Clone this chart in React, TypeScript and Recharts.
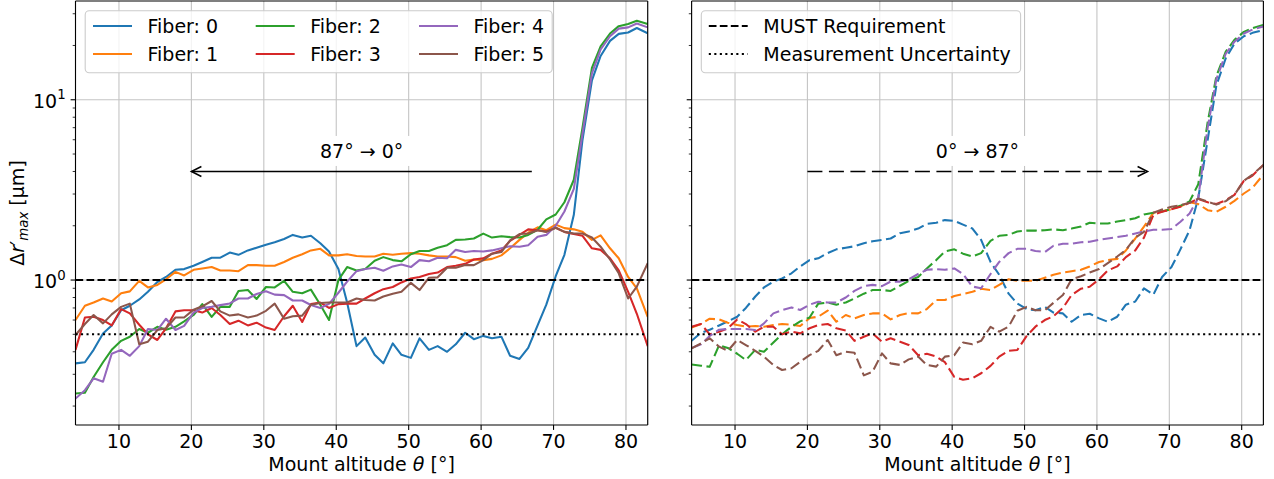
import React from 'react';
import { LineChart, Line, XAxis, YAxis, CartesianGrid, ReferenceLine, ReferenceDot } from 'recharts';

// mount altitude samples (deg)
const ALTITUDE = [
  4.0, 5.3, 6.5, 7.8, 9.0, 10.3, 11.5, 12.8, 14.0, 15.3, 16.5, 17.8, 19.0, 20.3, 21.5, 22.8,
  24.0, 25.3, 26.5, 27.8, 29.0, 30.3, 31.5, 32.8, 34.0, 35.3, 36.5, 37.8, 39.0, 40.3, 41.5, 42.8,
  44.0, 45.3, 46.5, 47.8, 49.0, 50.3, 51.5, 52.8, 54.0, 55.3, 56.5, 57.8, 59.0, 60.3, 61.5, 62.8,
  64.0, 65.3, 66.5, 67.8, 69.0, 70.3, 71.5, 72.8, 74.0, 75.3, 76.5, 77.8, 79.0, 80.3, 81.5, 83.0,
];

// left panel: 87 -> 0 sweep
const DOWN_FIBER_0 = [
  0.345, 0.35, 0.41, 0.505, 0.56, 0.68, 0.72, 0.78, 0.86, 0.975, 1.04, 1.14, 1.15, 1.2, 1.26, 1.33,
  1.33, 1.42, 1.38, 1.46, 1.51, 1.57, 1.62, 1.69, 1.78, 1.72, 1.76, 1.6, 1.44, 1.15, 0.75, 0.43,
  0.48, 0.385, 0.345, 0.445, 0.385, 0.37, 0.475, 0.41, 0.43, 0.4, 0.44, 0.51, 0.47, 0.49, 0.475, 0.485,
  0.38, 0.365, 0.42, 0.56, 0.73, 1.05, 1.38, 2.3, 6.0, 12.8, 17.5, 21.2, 23.2, 23.6, 25.0, 23.4,
];
const DOWN_FIBER_1 = [
  0.6, 0.72, 0.75, 0.79, 0.76, 0.845, 0.865, 0.99, 0.91, 0.94, 1.01, 1.11, 1.06, 1.14, 1.16, 1.18,
  1.13, 1.13, 1.12, 1.21, 1.21, 1.2, 1.2, 1.26, 1.33, 1.39, 1.46, 1.49, 1.37, 1.37, 1.39, 1.36,
  1.35, 1.35, 1.4, 1.38, 1.4, 1.41, 1.4, 1.37, 1.35, 1.35, 1.34, 1.28, 1.3, 1.29, 1.31, 1.37,
  1.5, 1.67, 1.83, 1.96, 1.89, 2.03, 1.94, 1.91, 1.85, 1.67, 1.77, 1.5, 1.32, 1.04, 0.9, 0.625,
];
const DOWN_FIBER_2 = [
  0.235, 0.237, 0.29, 0.35, 0.41, 0.46, 0.485, 0.535, 0.51, 0.55, 0.53, 0.55, 0.59, 0.64, 0.735, 0.625,
  0.71, 0.71, 0.87, 0.88, 0.785, 0.915, 0.91, 0.99, 0.86, 0.845, 0.885, 0.73, 0.6, 1.0, 1.18, 1.13,
  1.15, 1.28, 1.34, 1.29, 1.27, 1.39, 1.45, 1.45, 1.51, 1.56, 1.67, 1.68, 1.7, 1.81, 1.72, 1.75,
  1.73, 1.72, 1.78, 1.9, 2.17, 2.31, 2.7, 3.6, 7.0, 15.0, 19.8, 23.3, 25.6, 26.3, 27.4, 26.3,
];
const DOWN_FIBER_3 = [
  0.41, 0.62, 0.626, 0.6, 0.56, 0.69, 0.653, 0.565, 0.5, 0.465, 0.54, 0.67, 0.68, 0.68, 0.66, 0.7,
  0.64, 0.57, 0.595, 0.56, 0.58, 0.545, 0.528, 0.63, 0.72, 0.585, 0.735, 0.75, 0.7, 0.735, 0.74, 0.74,
  0.79, 0.845, 0.89, 0.915, 0.97, 1.02, 1.04, 1.08, 1.1, 1.18, 1.2, 1.23, 1.3, 1.32, 1.4, 1.46,
  1.65, 1.78, 1.91, 1.89, 1.86, 1.95, 1.85, 1.8, 1.76, 1.5, 1.47, 1.32, 1.13, 0.86, 0.65, 0.43,
];
const DOWN_FIBER_4 = [
  0.22, 0.245, 0.285, 0.273, 0.39, 0.41, 0.38, 0.43, 0.535, 0.528, 0.61, 0.528, 0.557, 0.66, 0.7, 0.71,
  0.726, 0.742, 0.79, 0.79, 0.837, 0.866, 0.83, 0.825, 0.77, 0.77, 0.727, 0.7, 0.737, 0.85, 0.98, 1.12,
  1.15, 1.17, 1.125, 1.19, 1.22, 1.18, 1.29, 1.27, 1.33, 1.32, 1.47, 1.43, 1.45, 1.44, 1.46, 1.5,
  1.54, 1.53, 1.56, 1.74, 1.78, 2.0, 2.4, 3.2, 6.5, 14.0, 19.0, 22.5, 24.8, 25.2, 26.5, 25.2,
];
const DOWN_FIBER_5 = [
  0.495, 0.57, 0.64, 0.575, 0.645, 0.71, 0.74, 0.44, 0.455, 0.528, 0.54, 0.62, 0.62, 0.685, 0.715, 0.765,
  0.67, 0.635, 0.645, 0.62, 0.635, 0.675, 0.74, 0.61, 0.63, 0.635, 0.73, 0.745, 0.75, 0.75, 0.75, 0.79,
  0.775, 0.77, 0.81, 0.84, 0.86, 0.965, 0.88, 1.03, 1.035, 1.17, 1.17, 1.21, 1.21, 1.29, 1.4, 1.43,
  1.66, 1.8, 1.81, 1.89, 1.85, 1.95, 1.85, 1.81, 1.81, 1.72, 1.53, 1.3, 1.09, 0.79, 0.92, 1.24,
];

// right panel: 0 -> 87 sweep
const UP_FIBER_0 = [
  0.46, 0.51, 0.53, 0.56, 0.59, 0.626, 0.7, 0.81, 0.91, 0.98, 1.02, 1.09, 1.19, 1.29, 1.32, 1.41,
  1.48, 1.51, 1.54, 1.6, 1.64, 1.67, 1.7, 1.82, 1.86, 1.93, 2.05, 2.08, 2.15, 2.13, 2.03, 1.93,
  1.67, 1.26, 1.07, 0.84, 0.74, 0.69, 0.68, 0.71, 0.66, 0.653, 0.587, 0.64, 0.65, 0.613, 0.587, 0.626,
  0.73, 0.76, 0.9, 0.83, 1.04, 1.18, 1.47, 1.89, 2.85, 6.0, 12.0, 17.0, 20.5, 22.5, 23.5, 24.4,
];
const UP_FIBER_1 = [
  0.545, 0.57, 0.61, 0.605, 0.58, 0.563, 0.551, 0.556, 0.551, 0.563, 0.57, 0.566, 0.556, 0.615, 0.626, 0.677,
  0.587, 0.64, 0.613, 0.64, 0.653, 0.653, 0.605, 0.64, 0.655, 0.653, 0.69, 0.775, 0.775, 0.815, 0.835, 0.86,
  0.895, 0.88, 0.94, 1.01, 0.99, 0.99, 0.99, 1.03, 1.07, 1.1, 1.12, 1.14, 1.19, 1.26, 1.29, 1.31,
  1.46, 1.7, 1.98, 2.36, 2.41, 2.47, 2.56, 2.7, 2.64, 2.44, 2.39, 2.55, 2.75, 3.02, 3.25, 3.85,
];
const UP_FIBER_2 = [
  0.34, 0.335, 0.33, 0.435, 0.42, 0.39, 0.36, 0.41, 0.4, 0.45, 0.5, 0.55, 0.59, 0.62, 0.74, 0.75,
  0.73, 0.75, 0.79, 0.84, 0.88, 0.88, 0.87, 0.93, 0.99, 1.04, 1.16, 1.29, 1.44, 1.48, 1.4, 1.35,
  1.41, 1.65, 1.76, 1.78, 1.86, 1.88, 1.88, 1.89, 1.91, 1.89, 1.93, 1.98, 2.08, 2.06, 2.06, 2.11,
  2.15, 2.2, 2.31, 2.36, 2.4, 2.48, 2.58, 2.73, 3.4, 7.5, 13.5, 18.5, 21.5, 23.8, 25.0, 26.0,
];
const UP_FIBER_3 = [
  0.551, 0.57, 0.5, 0.517, 0.54, 0.605, 0.57, 0.517, 0.551, 0.551, 0.5, 0.517, 0.506, 0.54, 0.563, 0.57,
  0.54, 0.525, 0.46, 0.485, 0.506, 0.455, 0.475, 0.455, 0.436, 0.383, 0.39, 0.376, 0.35, 0.29, 0.28, 0.285,
  0.304, 0.334, 0.376, 0.405, 0.409, 0.49, 0.551, 0.6, 0.63, 0.7, 0.826, 0.895, 0.918, 1.01, 1.13, 1.19,
  1.34, 1.46, 1.72, 2.3, 2.39, 2.47, 2.55, 2.68, 2.82, 2.7, 2.64, 2.77, 2.97, 3.55, 3.8, 4.35,
];
const UP_FIBER_4 = [
  0.42, 0.44, 0.49, 0.53, 0.535, 0.535, 0.535, 0.528, 0.575, 0.653, 0.682, 0.705, 0.682, 0.73, 0.758, 0.75,
  0.75, 0.8, 0.87, 0.925, 0.94, 0.925, 0.98, 0.98, 1.01, 1.08, 1.14, 1.15, 1.14, 1.16, 1.08, 0.92,
  0.9, 1.08, 1.26, 1.41, 1.49, 1.49, 1.45, 1.43, 1.55, 1.59, 1.59, 1.62, 1.63, 1.67, 1.7, 1.73,
  1.76, 1.81, 1.86, 1.9, 1.9, 1.92, 2.1, 2.34, 2.85, 7.0, 13.0, 18.0, 21.0, 23.3, 24.5, 25.5,
];
const UP_FIBER_5 = [
  0.418, 0.445, 0.475, 0.427, 0.405, 0.465, 0.436, 0.405, 0.376, 0.338, 0.317, 0.324, 0.352, 0.383, 0.405, 0.465,
  0.383, 0.4, 0.395, 0.296, 0.31, 0.392, 0.345, 0.338, 0.363, 0.376, 0.338, 0.331, 0.376, 0.383, 0.45, 0.44,
  0.46, 0.55, 0.517, 0.551, 0.676, 0.71, 0.68, 0.68, 0.748, 0.826, 1.01, 1.05, 1.1, 1.15, 1.24, 1.35,
  1.47, 1.72, 1.85, 2.36, 2.46, 2.55, 2.6, 2.68, 2.83, 2.72, 2.62, 2.74, 2.97, 3.55, 3.85, 4.35,
];

const FIBER_LABELS = ['Fiber: 0', 'Fiber: 1', 'Fiber: 2', 'Fiber: 3', 'Fiber: 4', 'Fiber: 5'];
const FIBER_COLORS = ['#1f77b4', '#ff7f0e', '#2ca02c', '#d62728', '#9467bd', '#8c564b'];

const X_TICKS = [10, 20, 30, 40, 50, 60, 70, 80];
const Y_MAJOR = [1, 10];
const Y_TICKS = [0.2, 0.3, 0.4, 0.5, 0.6, 0.7, 0.8, 0.9, 1, 2, 3, 4, 5, 6, 7, 8, 9, 10, 20, 30];
const X_DOMAIN: [number, number] = [4, 83];
const Y_DOMAIN: [number, number] = [0.157, 35.3];

const MUST_REQUIREMENT = 1;
const MEASUREMENT_UNCERTAINTY = 0.5;

const FONT = "'DejaVu Sans', sans-serif";
const FS = 19;
const LW = 2.08;
const DASH = '7.7 3.3';
const SERIES_DASH = '10.5 4.5';
const DOT = '2.1 3.4';

const buildRows = (series: number[][]) =>
  ALTITUDE.map((alt, i) => {
    const row: Record<string, number> = { alt };
    series.forEach((s, k) => {
      row[`f${k}`] = s[i];
    });
    return row;
  });

const downRows = buildRows([DOWN_FIBER_0, DOWN_FIBER_1, DOWN_FIBER_2, DOWN_FIBER_3, DOWN_FIBER_4, DOWN_FIBER_5]);
const upRows = buildRows([UP_FIBER_0, UP_FIBER_1, UP_FIBER_2, UP_FIBER_3, UP_FIBER_4, UP_FIBER_5]);

const YTick = (props: any) => {
  const { x, y, payload, showLabel } = props;
  const value = payload.value;
  const major = Y_MAJOR.includes(value);
  const len = major ? 4.9 : 2.8;
  return (
    <g>
      <line x1={x} y1={y} x2={x - len} y2={y} stroke="#000" strokeWidth={major ? 1.1 : 0.8} />
      {major && showLabel ? (
        <text x={x - 9.8} y={y + 8} textAnchor="end" fontSize={FS} fill="#000" fontFamily={FONT}>
          10
          <tspan dy={-8.5} fontSize={13.3}>
            {Math.round(Math.log10(value))}
          </tspan>
        </text>
      ) : null}
    </g>
  );
};

const XLabel = (props: any) => {
  const { viewBox } = props;
  const cx = viewBox.x + viewBox.width / 2;
  return (
    <text x={cx} y={viewBox.y + 46} textAnchor="middle" fontSize={FS} fill="#000" fontFamily={FONT}>
      Mount altitude <tspan fontStyle="italic">θ</tspan> [°]
    </text>
  );
};

const YLabel = (props: any) => {
  const { viewBox } = props;
  const cx = 23.5;
  const cy = viewBox.y + viewBox.height / 2;
  return (
    <text
      x={cx}
      y={cy}
      transform={`rotate(-90, ${cx}, ${cy})`}
      textAnchor="middle"
      fontSize={FS}
      fill="#000"
      fontFamily={FONT}
    >
      Δ<tspan fontStyle="italic">r</tspan>′
      <tspan fontStyle="italic" fontSize={13.3} dy={4}>
        max
      </tspan>
      <tspan dy={-4}> [μm]</tspan>
    </text>
  );
};

const Arrow = (props: any) => {
  const { x1, y1, x2, y2, dashed } = props;
  const dir = Math.sign(x2 - x1);
  return (
    <g>
      <line x1={x1} y1={y1} x2={x2} y2={y2} stroke="#000" strokeWidth={1.5} strokeDasharray={dashed ? '15 6.5' : undefined} />
      <path
        d={`M${x2 - dir * 10},${y2 - 5} L${x2},${y2} L${x2 - dir * 10},${y2 + 5}`}
        fill="none"
        stroke="#000"
        strokeWidth={1.5}
      />
    </g>
  );
};

const TextBox = (props: any) => {
  const { cx, cy, text } = props;
  return (
    <g>
      <rect x={cx - 50} y={cy - 15} width={100} height={30} fill="#fff" />
      <text x={cx} y={cy + 7} textAnchor="middle" fontSize={FS} fill="#000" fontFamily={FONT}>
        {text}
      </text>
    </g>
  );
};

interface PanelProps {
  rows: Record<string, number>[];
  dashed: boolean;
  showYLabels: boolean;
  left: number;
  width: number;
  yAxisWidth: number;
  marginRight: number;
  arrowFrom: number;
  arrowTo: number;
  arrowText: string;
}

const Panel: React.FC<PanelProps> = ({ rows, dashed, showYLabels, left, width, yAxisWidth, marginRight, arrowFrom, arrowTo, arrowText }) => (
  <div style={{ position: 'absolute', left, top: 0 }}>
    <LineChart width={width} height={479} data={rows} margin={{ top: 1, right: marginRight, bottom: 0, left: 0 }}>
      <CartesianGrid stroke="#c4c4c4" strokeWidth={1.1} horizontalValues={Y_MAJOR} />
      <XAxis
        type="number"
        dataKey="alt"
        domain={X_DOMAIN}
        ticks={X_TICKS}
        interval={0}
        allowDataOverflow
        height={54}
        stroke="#000"
        axisLine={{ stroke: '#000', strokeWidth: 1.1 }}
        tickLine={{ stroke: '#000', strokeWidth: 1.1 }}
        tickSize={4.9}
        tickMargin={4.9}
        tick={{ fill: '#000', fontSize: FS, fontFamily: FONT }}
        label={<XLabel />}
      />
      <YAxis
        type="number"
        scale="log"
        domain={Y_DOMAIN}
        ticks={Y_TICKS}
        interval={0}
        allowDataOverflow
        width={yAxisWidth}
        tickSize={0}
        tickMargin={0}
        tickLine={false}
        axisLine={{ stroke: '#000', strokeWidth: 1.1 }}
        tick={<YTick showLabel={showYLabels} />}
        label={showYLabels ? <YLabel /> : undefined}
      />
      {FIBER_COLORS.map((c, k) => (
        <Line
          key={k}
          type="linear"
          dataKey={`f${k}`}
          name={FIBER_LABELS[k]}
          stroke={c}
          strokeWidth={LW}
          strokeLinejoin="round"
          strokeDasharray={dashed ? SERIES_DASH : undefined}
          dot={false}
          isAnimationActive={false}
        />
      ))}
      <ReferenceLine y={MUST_REQUIREMENT} stroke="#000" strokeWidth={LW} strokeDasharray={DASH} />
      <ReferenceLine y={MEASUREMENT_UNCERTAINTY} stroke="#000" strokeWidth={LW} strokeDasharray={DOT} />
      <ReferenceLine x={X_DOMAIN[1]} stroke="#000" strokeWidth={1.1} ifOverflow="visible" />
      <ReferenceLine y={Y_DOMAIN[1]} stroke="#000" strokeWidth={1.1} ifOverflow="visible" />
      <ReferenceLine
        segment={[
          { x: arrowFrom, y: 4 },
          { x: arrowTo, y: 4 },
        ]}
        ifOverflow="visible"
        shape={(p: any) => <Arrow {...p} dashed={dashed} />}
      />
      <ReferenceDot
        x={(arrowFrom + arrowTo) / 2}
        y={5.2}
        r={0}
        ifOverflow="visible"
        shape={(p: any) => <TextBox cx={p.cx} cy={p.cy} text={arrowText} />}
      />
    </LineChart>
  </div>
);

const LegendBox = ({ x, y, w, h }: { x: number; y: number; w: number; h: number }) => (
  <rect x={x} y={y} width={w} height={h} rx={4} fill="#fff" fillOpacity={0.8} stroke="#cccccc" strokeWidth={1.1} />
);

const Legends = () => {
  const cols = [93, 255.7, 419];
  const rowsY = [26, 54];
  return (
    <svg width={1274} height={479} style={{ position: 'absolute', left: 0, top: 0, pointerEvents: 'none' }} fontFamily={FONT}>
      <LegendBox x={85.2} y={10.7} w={467} h={62} />
      {FIBER_LABELS.map((label, k) => {
        const hx = cols[Math.floor(k / 2)];
        const hy = rowsY[k % 2];
        return (
          <g key={label}>
            <line x1={hx} x2={hx + 39} y1={hy} y2={hy} stroke={FIBER_COLORS[k]} strokeWidth={LW} />
            <text x={hx + 54.5} y={hy + 7} fontSize={FS} fill="#000">
              {label}
            </text>
          </g>
        );
      })}
      <LegendBox x={701.3} y={10.7} w={319.3} h={62} />
      <line x1={708.8} x2={747.7} y1={26} y2={26} stroke="#000" strokeWidth={LW} strokeDasharray={DASH} />
      <text x={763.3} y={33} fontSize={FS} fill="#000">
        MUST Requirement
      </text>
      <line x1={708.8} x2={747.7} y1={54} y2={54} stroke="#000" strokeWidth={LW} strokeDasharray={DOT} />
      <text x={763.3} y={61} fontSize={FS} fill="#000">
        Measurement Uncertainty
      </text>
    </svg>
  );
};

export default function App() {
  return (
    <div style={{ position: 'absolute', left: 0, top: 0, width: 1274, height: 479, background: '#fff', fontFamily: FONT }}>
      <Panel
        rows={downRows}
        dashed={false}
        showYLabels
        left={0}
        width={660}
        yAxisWidth={75.5}
        marginRight={12.3}
        arrowFrom={67}
        arrowTo={20}
        arrowText="87° → 0°"
      />
      <Panel
        rows={upRows}
        dashed
        showYLabels={false}
        left={640}
        width={634}
        yAxisWidth={51.6}
        marginRight={10.6}
        arrowFrom={20}
        arrowTo={67}
        arrowText="0° → 87°"
      />
      <Legends />
    </div>
  );
}
